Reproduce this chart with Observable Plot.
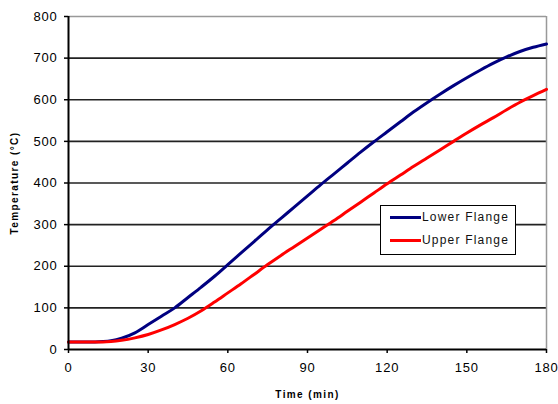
<!DOCTYPE html>
<html>
<head>
<meta charset="utf-8">
<script src="https://cdn.jsdelivr.net/npm/d3@7"></script>
<script src="https://cdn.jsdelivr.net/npm/@observablehq/plot@0.6"></script>
<style>
  html, body { margin: 0; padding: 0; background: #fff; }
  #wrap { position: relative; width: 558px; height: 404px; font-family: "Liberation Sans", Arial, sans-serif; }
  #legend { position: absolute; left: 380px; top: 205px; width: 134px; height: 48px; border: 1.5px solid #000; background: #fff; }
  .row { position: absolute; left: 9px; display: flex; align-items: center; font-size: 12px; letter-spacing: 1.2px; color: #111; }
  .sw { width: 31px; height: 3px; margin-right: 1px; }
</style>
</head>
<body>
<div id="wrap"></div>
<script>
const seriesNames = ["Lower Flange", "Upper Flange"];
const seriesColors = ["#000080", "#ff0000"];
const time  = [0, 5, 10, 13, 16, 20, 25, 30, 35, 40, 45, 50, 55, 60, 65, 70, 75, 80, 85, 90, 95, 100, 105, 110, 115, 120, 125, 130, 135, 140, 145, 150, 155, 160, 165, 170, 175, 180];
const lower = [18, 18, 18, 19, 21, 27, 40, 60, 80, 100, 125, 150, 176, 204, 232, 260, 288, 315, 342, 369, 396, 422, 448, 474, 499, 523, 547, 571, 593, 614, 634, 653, 671, 688, 703, 716, 726, 734];
const upper = [18, 18, 18, 18, 19, 22, 28, 36, 47, 60, 75, 93, 114, 136, 158, 181, 204, 226, 247, 268, 289, 310, 332, 354, 376, 398, 419, 440, 460, 480, 500, 520, 539, 557, 576, 594, 610, 625];
const xTicks = [0, 30, 60, 90, 120, 150, 180];
const yTicks = [0, 100, 200, 300, 400, 500, 600, 700, 800];

const data = [];
time.forEach((t, i) => {
  data.push({time: t, temp: lower[i], series: seriesNames[0]});
  data.push({time: t, temp: upper[i], series: seriesNames[1]});
});

const chart = Plot.plot({
  width: 558,
  height: 404,
  marginLeft: 68,
  marginRight: 12,
  marginTop: 16,
  marginBottom: 55,
  style: {fontFamily: "'Liberation Sans', Arial, sans-serif", background: "#fff", color: "#000"},
  x: {domain: [0, 180]},
  y: {domain: [0, 800]},
  color: {domain: seriesNames, range: seriesColors},
  marks: [
    Plot.ruleY(yTicks.filter(d => d > 0 && d < 800), {stroke: "#222", strokeWidth: 1.6}),
    Plot.ruleY([800], {stroke: "#999", strokeWidth: 1.5}),
    Plot.ruleX([180], {stroke: "#999", strokeWidth: 1.5}),
    Plot.line(data, {x: "time", y: "temp", z: "series", stroke: "series", strokeWidth: 3, curve: "monotone-x"}),
    Plot.ruleX([0], {stroke: "#000", strokeWidth: 2}),
    Plot.ruleY([0], {stroke: "#000", strokeWidth: 2}),
    Plot.axisX({ticks: xTicks, tickSize: 4, tickPadding: 9, fontSize: 13, strokeWidth: 1.5, stroke: "#000",
      label: "Time (min)", labelAnchor: "center", labelArrow: "none", labelOffset: 48}),
    Plot.axisY({ticks: yTicks, tickSize: 4, tickPadding: 7, fontSize: 13, strokeWidth: 1.5, stroke: "#000",
      label: "Temperature (°C)", labelAnchor: "center", labelArrow: "none", labelOffset: 58})
  ]
});

chart.querySelectorAll("[aria-label='x-axis tick label'] text, [aria-label='y-axis tick label'] text").forEach(t => {
  t.setAttribute("letter-spacing", "0.8");
});
chart.querySelectorAll("[aria-label='x-axis label'] text, [aria-label='y-axis label'] text").forEach(t => {
  t.setAttribute("font-size", "10");
  t.setAttribute("font-weight", "bold");
  t.setAttribute("letter-spacing", "1.4");
});

const wrap = document.getElementById("wrap");
wrap.appendChild(chart);

const legend = document.createElement("div");
legend.id = "legend";
seriesNames.forEach((name, i) => {
  const row = document.createElement("div");
  row.className = "row";
  row.style.top = (i === 0 ? 4 : 27) + "px";
  const sw = document.createElement("span");
  sw.className = "sw";
  sw.style.background = seriesColors[i];
  const label = document.createElement("span");
  label.textContent = name;
  row.appendChild(sw);
  row.appendChild(label);
  legend.appendChild(row);
});
wrap.appendChild(legend);
</script>
</body>
</html>
